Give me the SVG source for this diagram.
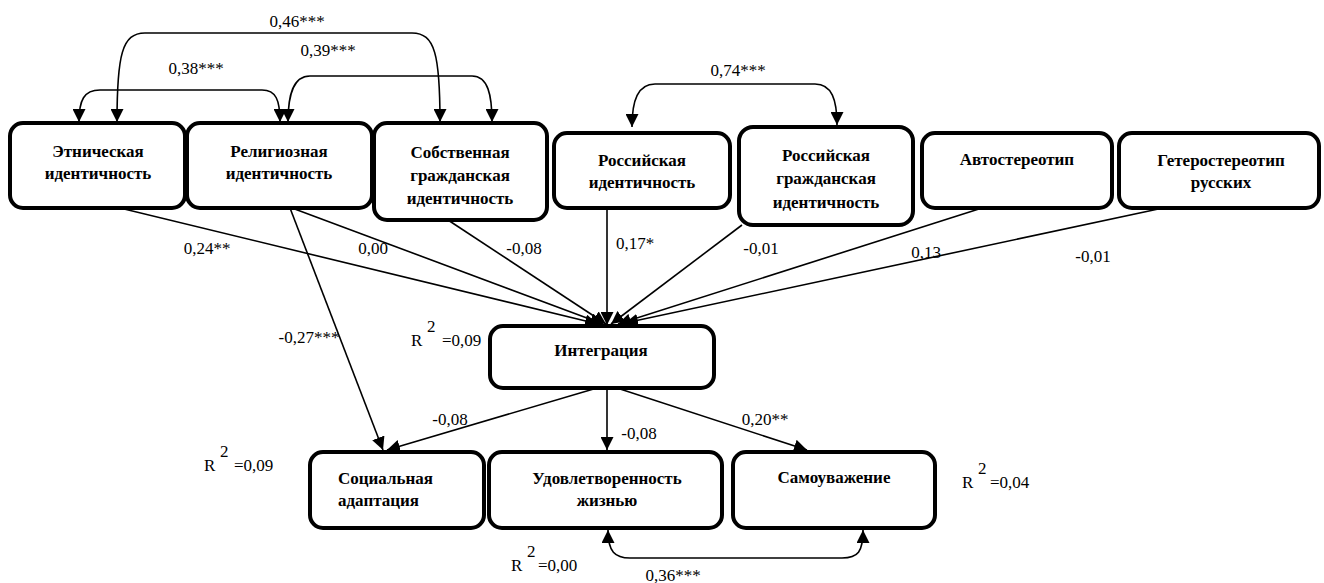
<svg xmlns="http://www.w3.org/2000/svg" width="1324" height="583" viewBox="0 0 1324 583">
<style>
.box{fill:#fff;stroke:#000;stroke-width:4}
.nt{font-family:"Liberation Serif","Times New Roman",serif;font-weight:bold;font-size:17px;fill:#000;text-anchor:middle}
.ntl{font-family:"Liberation Serif","Times New Roman",serif;font-weight:bold;font-size:17px;fill:#000;text-anchor:start}
.lb{font-family:"Liberation Serif","Times New Roman",serif;font-size:17px;fill:#000}
.ln{fill:none;stroke:#000;stroke-width:1.6}
</style>
<defs>
<marker id="ah" viewBox="0 0 12 12" refX="12" refY="6" markerUnits="userSpaceOnUse" markerWidth="13" markerHeight="13" orient="auto-start-reverse">
<path d="M0,0 L12,6 L0,12 z" fill="#000"/>
</marker>
</defs>
<rect width="1324" height="583" fill="#fff"/>

<g id="connectors">
<path class="ln" d="M117 122 C117 55 122 33 145 33 L412 33 C435 33 440 55 440 122" marker-start="url(#ah)" marker-end="url(#ah)"/>
<path class="ln" d="M79 122 C79 100 84 90 100 90 L262 90 C276 90 280 100 280 122" marker-start="url(#ah)" marker-end="url(#ah)"/>
<path class="ln" d="M288 122 C288 95 293 76 310 76 L472 76 C488 76 492 95 492 122" marker-start="url(#ah)" marker-end="url(#ah)"/>
<path class="ln" d="M632 127 C632 100 638 84 655 84 L815 84 C832 84 837 100 837 125" marker-start="url(#ah)" marker-end="url(#ah)"/>
<path class="ln" d="M608 530 C608 552 615 558 630 558 L842 558 C858 558 863 552 863 530" marker-start="url(#ah)" marker-end="url(#ah)"/>

<line class="ln" x1="120" y1="208" x2="598" y2="324" marker-end="url(#ah)"/>
<line class="ln" x1="292" y1="208" x2="603" y2="324" marker-end="url(#ah)"/>
<line class="ln" x1="448" y1="220" x2="606" y2="324" marker-end="url(#ah)"/>
<line class="ln" x1="607" y1="208" x2="607" y2="325" marker-end="url(#ah)"/>
<line class="ln" x1="742" y1="225" x2="611" y2="324" marker-end="url(#ah)"/>
<line class="ln" x1="982" y1="208" x2="618" y2="324" marker-end="url(#ah)"/>
<line class="ln" x1="1163" y1="208" x2="625" y2="323" marker-end="url(#ah)"/>

<line class="ln" x1="290" y1="208" x2="383" y2="450" marker-end="url(#ah)"/>
<line class="ln" x1="597" y1="388" x2="387" y2="450" marker-end="url(#ah)"/>
<line class="ln" x1="607" y1="388" x2="607" y2="450" marker-end="url(#ah)"/>
<line class="ln" x1="617" y1="388" x2="807" y2="450" marker-end="url(#ah)"/>
</g>

<g id="labels">
<text class="lb" x="297" y="27" text-anchor="middle">0,46***</text>
<text class="lb" x="328" y="56" text-anchor="middle">0,39***</text>
<text class="lb" x="196" y="74" text-anchor="middle">0,38***</text>
<text class="lb" x="738" y="76" text-anchor="middle">0,74***</text>
<text class="lb" x="207" y="254" text-anchor="middle">0,24**</text>
<text class="lb" x="373" y="254" text-anchor="middle">0,00</text>
<text class="lb" x="524" y="254" text-anchor="middle">-0,08</text>
<text class="lb" x="635" y="249" text-anchor="middle">0,17*</text>
<text class="lb" x="761" y="254" text-anchor="middle">-0,01</text>
<text class="lb" x="926" y="258" text-anchor="middle">0,13</text>
<text class="lb" x="1093" y="262" text-anchor="middle">-0,01</text>
<text class="lb" x="309" y="343" text-anchor="middle">-0,27***</text>
<text class="lb" x="450" y="425" text-anchor="middle">-0,08</text>
<text class="lb" x="639" y="439" text-anchor="middle">-0,08</text>
<text class="lb" x="765" y="425" text-anchor="middle">0,20**</text>
<text class="lb" x="673" y="581" text-anchor="middle">0,36***</text>

<text class="lb" x="411" y="346">R</text><text class="lb" x="427" y="332">2</text><text class="lb" x="442" y="346">=0,09</text>
<text class="lb" x="204" y="471">R</text><text class="lb" x="220" y="457">2</text><text class="lb" x="234" y="471">=0,09</text>
<text class="lb" x="962" y="488">R</text><text class="lb" x="978" y="474">2</text><text class="lb" x="990" y="488">=0,04</text>
<text class="lb" x="511" y="571">R</text><text class="lb" x="527" y="557">2</text><text class="lb" x="538" y="571">=0,00</text>
</g>

<g id="n-etn"><rect class="box" x="10" y="123" width="175" height="85" rx="13"/>
<text class="nt" x="98" y="157">Этническая</text><text class="nt" x="98" y="179">идентичность</text></g>
<g id="n-rel"><rect class="box" x="187" y="123" width="185" height="85" rx="13"/>
<text class="nt" x="279" y="157">Религиозная</text><text class="nt" x="279" y="179">идентичность</text></g>
<g id="n-sob"><rect class="box" x="374" y="123" width="173" height="97" rx="13"/>
<text class="nt" x="460" y="158">Собственная</text><text class="nt" x="460" y="181">гражданская</text><text class="nt" x="460" y="204">идентичность</text></g>
<g id="n-ros"><rect class="box" x="554" y="133" width="176" height="75" rx="13"/>
<text class="nt" x="642" y="166">Российская</text><text class="nt" x="642" y="188">идентичность</text></g>
<g id="n-rosgr"><rect class="box" x="739" y="127" width="174" height="98" rx="14" stroke-width="5"/>
<text class="nt" x="826" y="161">Российская</text><text class="nt" x="826" y="184">гражданская</text><text class="nt" x="826" y="208">идентичность</text></g>
<g id="n-avto"><rect class="box" x="922" y="133" width="190" height="75" rx="13"/>
<text class="nt" x="1017" y="165">Автостереотип</text></g>
<g id="n-get"><rect class="box" x="1119" y="133" width="200" height="75" rx="13"/>
<text class="nt" x="1221" y="166">Гетеростереотип</text><text class="nt" x="1221" y="188">русских</text></g>
<g id="n-int"><rect class="box" x="490" y="326" width="224" height="62" rx="13"/>
<text class="nt" x="601" y="356">Интеграция</text></g>
<g id="n-soc"><rect class="box" x="310" y="452" width="174" height="76" rx="13"/>
<text class="ntl" x="338" y="484">Социальная</text><text class="ntl" x="338" y="506">адаптация</text></g>
<g id="n-udov"><rect class="box" x="489" y="452" width="233" height="76" rx="13"/>
<text class="nt" x="607" y="484">Удовлетворенность</text><text class="nt" x="607" y="506">жизнью</text></g>
<g id="n-sam"><rect class="box" x="733" y="452" width="202" height="76" rx="13"/>
<text class="nt" x="834" y="483">Самоуважение</text></g>
</svg>
